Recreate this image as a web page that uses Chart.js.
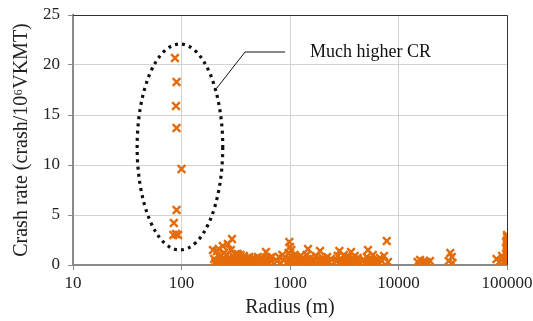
<!DOCTYPE html>
<html>
<head>
<meta charset="utf-8">
<script src="https://cdn.jsdelivr.net/npm/chart.js@4/dist/chart.umd.min.js"></script>
<style>
  html, body { margin: 0; padding: 0; background: #ffffff; }
  #wrap { width: 533px; height: 321px; }
</style>
</head>
<body>
<div id="wrap"><canvas id="c" width="533" height="321"></canvas></div>
<script>
// ---- Data ----
const xTickValues = [10, 100, 1000, 10000, 100000];
const yTickValues = [0, 5, 10, 15, 20, 25];

// Sharp curves (radius < ~110 m)
const sharpRadius = [87, 90, 89, 90, 100, 90, 85, 84, 93, 89];
const sharpCR     = [20.7, 18.3, 15.9, 13.7, 9.6, 5.5, 4.2, 3.0, 3.0, 3.1];

// Remaining curves
const otherRadius = [
  195, 200, 205, 212, 215, 220, 226, 230, 235, 240, 247, 250, 255, 262, 268, 272, 280, 285, 292, 298,
  305, 310, 318, 325, 330, 333, 340, 346, 350, 355, 362, 370, 377, 385, 395, 402, 410, 420, 428, 440,
  446, 455, 465, 475, 486, 495, 505, 515, 529, 540, 552, 565, 576, 590, 600, 615, 627, 640, 655, 668, 682,
  760, 790, 820, 850, 870,
  950, 970, 985, 990, 1000, 1005, 1015, 1030, 1045, 1060, 1080, 1100, 1120, 1140, 1160, 1190, 1220, 1250,
  1280, 1310, 1345, 1380, 1420, 1465, 1500, 1540, 1595, 1640, 1690, 1737, 1800, 1850, 1890, 1950, 2000,
  2057, 2130, 2200, 2300, 2380,
  2650, 2750, 2850, 2890, 2950, 3050, 3146, 3250, 3350, 3425, 3550, 3650, 3728, 3850, 3950, 4058, 4200, 4418,
  4700, 4900, 5100, 5236, 5400, 5600, 5800, 6000, 6205, 6500, 6755, 7000, 7353, 7800, 8005,
  15000, 15800, 16500, 17200, 18000, 18700, 19500,
  29000, 30000, 31000, 31500,
  80000, 85000, 90000, 95000, 98000, 98000, 98000, 98000,
  100000, 100000, 100000, 100000, 100000, 100000, 100000, 100000, 100000, 100000, 100000, 100000, 100000,
  100000, 100000,
  // extra low-rate curves filling the dense band
  208, 225, 245, 265, 290, 315, 345, 375, 415, 460, 500, 560, 620,
  960, 1070, 1180, 1300, 1440, 1600, 1780, 1980, 2200,
  2700, 3000, 3300, 3600, 3900, 4300, 4800, 5300, 5900, 6500
];
const otherCR = [
  1.5, 0.6, 0.3, 1.4, 0.2, 1.6, 0.8, 0.4, 0.1, 1.9, 1.2, 0.5, 0.2, 1.0, 2.1, 0.7, 0.3, 1.5, 2.6, 0.9,
  0.5, 0.2, 1.1, 0.6, 1.1, 0.3, 0.8, 0.4, 1.0, 0.1, 0.7, 0.3, 0.9, 0.5, 0.2, 0.6, 0.3, 0.8, 0.1, 0.5,
  0.3, 0.7, 0.2, 0.6, 0.4, 0.1, 0.8, 0.3, 0.6, 0.2, 0.7, 0.4, 0.1, 0.5, 1.3, 0.3, 0.6, 0.2, 0.7, 0.4, 0.8,
  0.4, 0.8, 0.2, 1.0, 0.5,
  0.3, 1.2, 2.3, 0.6, 1.8, 0.1, 0.9, 1.5, 0.4, 0.7, 0.2, 1.0, 0.5, 0.8, 0.3, 0.6, 0.1, 0.9,
  0.4, 0.7, 0.2, 0.5, 1.0, 1.6, 0.3, 0.7, 0.2, 0.6, 0.4, 0.9, 0.1, 0.5, 1.4, 0.3, 0.7,
  0.2, 0.5, 0.8, 0.3, 0.6,
  0.4, 0.9, 1.4, 0.2, 0.6, 0.3, 1.0, 0.5, 0.1, 0.8, 0.4, 1.3, 0.2, 0.6, 0.9, 0.3, 0.7, 0.1,
  0.5, 0.2, 0.8, 1.5, 0.3, 0.6, 1.0, 0.2, 0.5, 0.3, 0.7, 0.4, 0.9, 2.4, 0.3,
  0.3, 0.5, 0.2, 0.4, 0.3, 0.1, 0.4,
  0.4, 1.2, 0.8, 0.2,
  0.6, 0.3, 0.9, 0.2, 0.1, 0.5, 1.1, 2.3,
  0.0, 0.2, 0.4, 0.6, 0.8, 1.0, 1.2, 1.4, 1.6, 1.8, 2.0, 2.2, 2.5, 2.8, 3.0,
  0.1, 0.4, 0.2, 0.5, 0.1, 0.4, 0.2, 0.5, 0.2, 0.4, 0.2, 0.5, 0.1,
  0.1, 0.4, 0.2, 0.5, 0.1, 0.4, 0.2, 0.5, 0.1, 0.4,
  0.1, 0.5, 0.2, 0.4, 0.1, 0.5, 0.2, 0.4, 0.1, 0.2
];

const annotationText = 'Much higher CR';

// ---- Build chart ----
const orange = 'rgb(228,108,10)';
const points = [];
sharpRadius.forEach((r, i) => points.push({ x: r, y: sharpCR[i] }));
otherRadius.forEach((r, i) => points.push({ x: r, y: otherCR[i] }));

const serif = "'Liberation Serif', 'Times New Roman', serif";

const decorPlugin = {
  id: 'decor',
  afterDraw(chart) {
    const { ctx, chartArea: a, scales: { x, y } } = chart;
    ctx.save();
    // top and right frame
    ctx.strokeStyle = '#333';
    ctx.lineWidth = 1;
    ctx.beginPath();
    ctx.moveTo(a.left, a.top + 0.5);
    ctx.lineTo(a.right + 0.5, a.top + 0.5);
    ctx.lineTo(a.right + 0.5, a.bottom);
    ctx.stroke();

    // dotted ellipse around the sharp-curve points (in data coords)
    const xl = x.getPixelForValue(39), xr = x.getPixelForValue(240);
    const yt = y.getPixelForValue(22.1), yb = y.getPixelForValue(1.5);
    ctx.strokeStyle = '#111';
    ctx.lineWidth = 3.2;
    ctx.setLineDash([3, 4.2]);
    ctx.beginPath();
    ctx.ellipse((xl + xr) / 2, (yt + yb) / 2, (xr - xl) / 2, (yb - yt) / 2, 0, 0, Math.PI * 2);
    ctx.stroke();

    // leader line + label
    ctx.setLineDash([]);
    ctx.lineWidth = 1;
    ctx.strokeStyle = '#111';
    ctx.beginPath();
    ctx.moveTo(x.getPixelForValue(212), y.getPixelForValue(17.7));
    ctx.lineTo(x.getPixelForValue(385), y.getPixelForValue(21.3));
    ctx.lineTo(x.getPixelForValue(900), y.getPixelForValue(21.3));
    ctx.stroke();
    ctx.fillStyle = '#111';
    ctx.font = "18px " + serif;
    ctx.textAlign = 'left';
    ctx.textBaseline = 'middle';
    ctx.fillText(annotationText, x.getPixelForValue(1528), y.getPixelForValue(21.3));
    ctx.restore();
  }
};

const gridOpts = {
  color: '#d2d2d2',
  borderDash: [1, 2],
  lineWidth: 1,
  drawTicks: true,
  tickLength: 5,
  tickColor: '#8a8a8a',
  tickBorderDash: [],
  tickWidth: 1
};

new Chart(document.getElementById('c'), {
  type: 'scatter',
  data: {
    datasets: [{
      data: points,
      pointStyle: 'crossRot',
      pointRadius: 5.4,
      pointHoverRadius: 5.4,
      borderColor: orange,
      backgroundColor: orange,
      pointBorderWidth: 2.4,
      borderWidth: 2.4
    }]
  },
  options: {
    responsive: false,
    animation: false,
    events: [],
    layout: { padding: { top: 15, right: 26, bottom: 0, left: 0 } },
    plugins: { legend: { display: false }, tooltip: { enabled: false } },
    scales: {
      x: {
        type: 'logarithmic',
        min: 10, max: 100000,
        afterFit(s) { s.height = 56; s.paddingLeft = 0; s.paddingRight = 0; },
        afterBuildTicks(s) { s.ticks = xTickValues.map(v => ({ value: v })); },
        ticks: {
          color: '#222',
          font: { family: serif, size: 17 },
          padding: 3,
          maxRotation: 0,
          autoSkip: false,
          callback: (v) => String(v)
        },
        grid: gridOpts,
        border: { display: true, color: '#8a8a8a', width: 2 },
        title: {
          display: true,
          text: 'Radius (m)',
          color: '#222',
          font: { family: serif, size: 20 },
          padding: { top: 0, bottom: 1 }
        }
      },
      y: {
        min: 0, max: 25,
        afterFit(s) { s.width = 73; s.paddingTop = 0; s.paddingBottom = 0; },
        afterBuildTicks(s) { s.ticks = yTickValues.map(v => ({ value: v })); },
        ticks: {
          color: '#222',
          font: { family: serif, size: 17 },
          padding: 8
        },
        grid: gridOpts,
        border: { display: true, color: '#8a8a8a', width: 2 },
        title: {
          display: true,
          text: 'Crash rate (crash/10\u2076VKMT)',
          color: '#222',
          font: { family: serif, size: 20 },
          padding: { top: 10, bottom: 0 }
        }
      }
    }
  },
  plugins: [decorPlugin]
});
</script>
</body>
</html>
